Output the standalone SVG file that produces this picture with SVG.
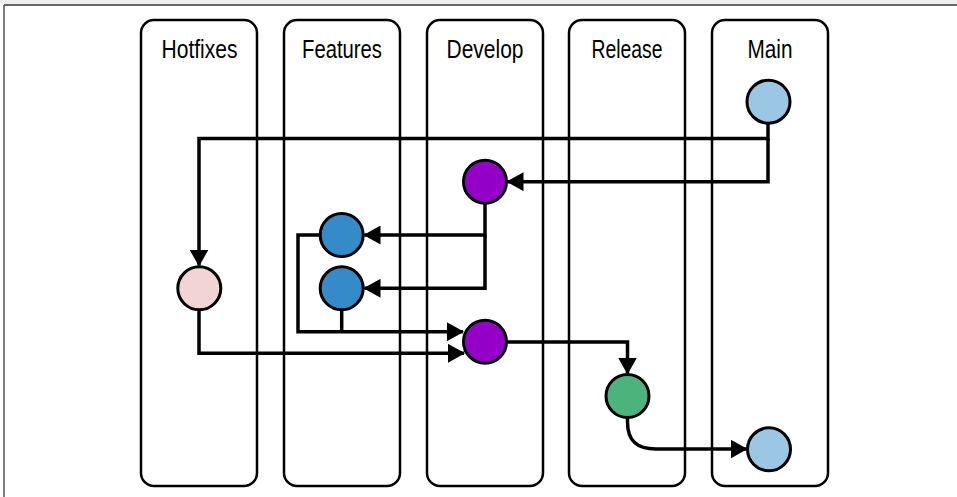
<svg xmlns="http://www.w3.org/2000/svg" width="957" height="497" viewBox="0 0 957 497">
  <style>
    .lane { fill: #ffffff; stroke: #000000; stroke-width: 2.5; }
    .label { font-family: "Liberation Sans", Arial, sans-serif; font-size: 26px; fill: #000000; text-anchor: middle; }
    .node { stroke: #000000; stroke-width: 3; }
    .conn { fill: none; stroke: #000000; stroke-width: 3.5; }
    .purple { fill: #9400c8; }
    .blue { fill: #348bc8; }
    .lightblue { fill: #9cc7e4; }
    .pink { fill: #f2d4d4; }
    .green { fill: #4db37c; }
  </style>
  <defs>
    <marker id="arrow" markerUnits="userSpaceOnUse" markerWidth="17" markerHeight="19" viewBox="0 0 17 19" refX="16" refY="9.5" orient="auto">
      <path d="M0,0 L17,9.5 L0,19 Z" fill="#000000"/>
    </marker>
  </defs>
  <rect x="0" y="0" width="957" height="497" fill="#ffffff"/>
  <rect x="0" y="0" width="957" height="4" fill="#eeeeee"/>
  <line x1="4" y1="5" x2="957" y2="5" stroke="#333333" stroke-width="1.5"/>
  <line x1="4" y1="5" x2="4" y2="497" stroke="#555555" stroke-width="1.5"/>

  <g id="lane-hotfixes">
    <rect class="lane" x="141" y="20" width="116" height="466" rx="13"/>
    <text class="label" x="199.5" y="57.5" textLength="76" lengthAdjust="spacingAndGlyphs">Hotfixes</text>
  </g>
  <g id="lane-features">
    <rect class="lane" x="284" y="20" width="116" height="466" rx="13"/>
    <text class="label" x="342" y="57.5" textLength="80" lengthAdjust="spacingAndGlyphs">Features</text>
  </g>
  <g id="lane-develop">
    <rect class="lane" x="427" y="20" width="116" height="466" rx="13"/>
    <text class="label" x="485" y="57.5" textLength="77" lengthAdjust="spacingAndGlyphs">Develop</text>
  </g>
  <g id="lane-release">
    <rect class="lane" x="569" y="20" width="116" height="466" rx="13"/>
    <text class="label" x="627" y="57.5" textLength="71" lengthAdjust="spacingAndGlyphs">Release</text>
  </g>
  <g id="lane-main">
    <rect class="lane" x="712" y="20" width="116" height="466" rx="13"/>
    <text class="label" x="770" y="57.5" textLength="45" lengthAdjust="spacingAndGlyphs">Main</text>
  </g>

  <g id="connectors">
    <path class="conn" d="M768,124 V138.5 H199 V265.5" marker-end="url(#arrow)"/>
    <path class="conn" d="M768,138.5 V181.7 H507.5" marker-end="url(#arrow)"/>
    <path class="conn" d="M485,204 V235 H364.5" marker-end="url(#arrow)"/>
    <path class="conn" d="M485,235 V288.3 H364.5" marker-end="url(#arrow)"/>
    <path class="conn" d="M319,235 H298 V331.7 H463" marker-end="url(#arrow)"/>
    <path class="conn" d="M341.7,311 V331.7"/>
    <path class="conn" d="M199,311 V353.3 H464" marker-end="url(#arrow)"/>
    <path class="conn" d="M507.5,342 H627.5 V373.5" marker-end="url(#arrow)"/>
    <path class="conn" d="M627.5,418 V422 C627.5,440 636,449 656,449 H746.5" marker-end="url(#arrow)"/>
  </g>

  <g id="node-main-1"><circle class="node lightblue" cx="768.5" cy="101.7" r="21.5"/></g>
  <g id="node-develop-1"><circle class="node purple" cx="485" cy="181.7" r="21.5"/></g>
  <g id="node-feature-1"><circle class="node blue" cx="341.7" cy="235" r="21.5"/></g>
  <g id="node-feature-2"><circle class="node blue" cx="341.7" cy="288.3" r="21.5"/></g>
  <g id="node-hotfix-1"><circle class="node pink" cx="199.3" cy="288.3" r="21.5"/></g>
  <g id="node-develop-2"><circle class="node purple" cx="485" cy="341.7" r="21.5"/></g>
  <g id="node-release-1"><circle class="node green" cx="627.5" cy="396" r="21.5"/></g>
  <g id="node-main-2"><circle class="node lightblue" cx="769" cy="449.3" r="21.5"/></g>
</svg>
